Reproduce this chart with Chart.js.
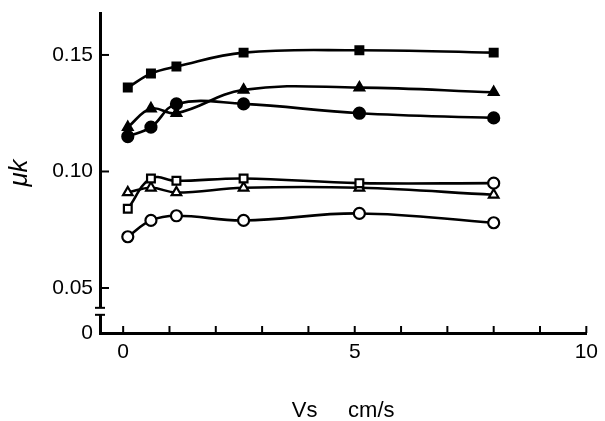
<!DOCTYPE html>
<html>
<head>
<meta charset="utf-8">
<script src="https://cdn.jsdelivr.net/npm/chart.js@4"></script>
<style>
  html, body { margin: 0; padding: 0; background: #fff; }
  #wrap { width: 605px; height: 421px; }
</style>
</head>
<body>
<div id="wrap"><canvas id="muChart" width="605" height="421"></canvas></div>
<script>
// sliding speed, cm/s
var speeds = [0.1, 0.6, 1.15, 2.6, 5.1, 8.0];

var filledSquare   = [0.136, 0.142, 0.145, 0.151, 0.152, 0.151];
var filledTriangle = [0.119, 0.127, 0.125, 0.135, 0.136, 0.134];
var filledCircle   = [0.115, 0.119, 0.129, 0.129, 0.125, 0.123];
var openSquare     = [0.084, 0.097, 0.096, 0.097, 0.095, 0.095];
var openTriangle   = [0.091, 0.093, 0.091, 0.093, 0.093, 0.090];
var openCircle     = [0.072, 0.079, 0.081, 0.079, 0.082, 0.078];

var yTicks = [0.05, 0.10, 0.15];
var xTickLabels = ['0', '5', '10'];

var Y_MIN = 0.0307;   // where the broken axis shows "0"

function pts(ys) {
  var out = [];
  for (var i = 0; i < speeds.length; i++) out.push({ x: speeds[i], y: ys[i] });
  return out;
}

function series(ys, style, filled) {
  return {
    data: pts(ys),
    borderColor: '#000',
    borderWidth: 2.6,
    backgroundColor: filled ? '#000' : '#fff',
    pointBorderColor: '#000',
    pointBorderWidth: 2.2,
    pointStyle: style,
    pointRadius: 5.5,
    tension: 0.4,
    fill: false
  };
}

// inward ticks + axis break, like the printed figure
var axisDecor = {
  id: 'axisDecor',
  afterDraw: function(chart) {
    var c = chart.ctx, xs = chart.scales.x, ys = chart.scales.y;
    var left = chart.chartArea.left, bottom = chart.chartArea.bottom;
    c.save();
    c.strokeStyle = '#000';
    c.lineWidth = 2;
    for (var v = 0; v <= 10; v++) {
      var px = xs.getPixelForValue(v);
      c.beginPath(); c.moveTo(px, bottom); c.lineTo(px, bottom - 7); c.stroke();
    }
    for (var i = 0; i < yTicks.length; i++) {
      var py = ys.getPixelForValue(yTicks[i]);
      c.beginPath(); c.moveTo(left, py); c.lineTo(left + 9, py); c.stroke();
    }
    // break in y axis
    var b1 = ys.getPixelForValue(0.0415), b2 = ys.getPixelForValue(0.0385);
    c.fillStyle = '#fff';
    c.fillRect(left - 3, b1, 6, b2 - b1);
    c.lineWidth = 2;
    c.beginPath(); c.moveTo(left - 5, b1); c.lineTo(left + 5, b1); c.stroke();
    c.beginPath(); c.moveTo(left - 5, b2); c.lineTo(left + 5, b2); c.stroke();
    c.restore();
  }
};

new Chart(document.getElementById('muChart'), {
  type: 'line',
  data: {
    datasets: [
      series(filledSquare, 'rect', true),
      series(filledTriangle, 'triangle', true),
      series(filledCircle, 'circle', true),
      series(openSquare, ['rect', 'rect', 'rect', 'rect', 'rect', 'circle'], false),
      series(openTriangle, 'triangle', false),
      series(openCircle, 'circle', false)
    ]
  },
  options: {
    responsive: false,
    animation: false,
    layout: { padding: { top: 13, right: 14, left: 0, bottom: 0 } },
    plugins: { legend: { display: false }, tooltip: { enabled: false } },
    scales: {
      x: {
        type: 'linear',
        min: -0.5,
        max: 10,
        afterBuildTicks: function(s) {
          s.ticks = [{ value: 0 }, { value: 5 }, { value: 10 }];
        },
        afterFit: function(s) { s.height = 88; },
        ticks: {
          color: '#000',
          font: { family: 'Liberation Sans', size: 21 },
          padding: 7,
          maxRotation: 0,
          callback: function(v, i) { return xTickLabels[i]; }
        },
        grid: { drawOnChartArea: false, drawTicks: false },
        border: { color: '#000', width: 3 },
        title: {
          display: true,
          text: 'Vs     cm/s',
          color: '#000',
          font: { family: 'Liberation Sans', size: 22 },
          padding: { top: 28, bottom: -3 }
        }
      },
      y: {
        type: 'linear',
        min: Y_MIN,
        max: 0.168,
        afterBuildTicks: function(s) {
          s.ticks = [{ value: Y_MIN }].concat(yTicks.map(function(v) { return { value: v }; }));
        },
        afterFit: function(s) { s.width = 100; s.paddingTop = 0; s.paddingBottom = 0; },
        ticks: {
          color: '#000',
          font: { family: 'Liberation Sans', size: 21 },
          padding: 7,
          callback: function(v) {
            if (Math.abs(v - Y_MIN) < 1e-6) return '0';
            return v.toFixed(2);
          }
        },
        grid: { drawOnChartArea: false, drawTicks: false },
        border: { color: '#000', width: 3 },
        title: {
          display: true,
          text: 'μk',
          color: '#000',
          font: { family: 'Liberation Sans', size: 26, style: 'italic' },
          padding: { bottom: 0, top: 4 }
        }
      }
    }
  },
  plugins: [axisDecor]
});
</script>
</body>
</html>
